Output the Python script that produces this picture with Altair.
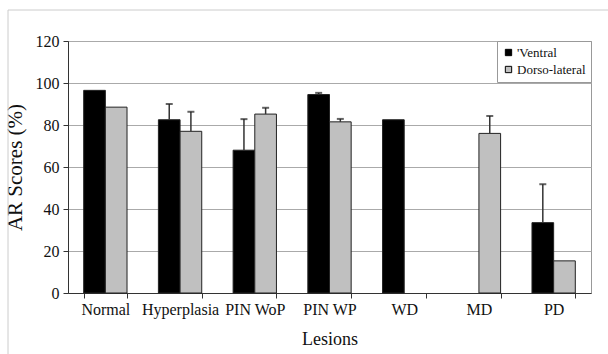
import altair as alt
import pandas as pd

categories = ["Normal", "Hyperplasia", "PIN WoP", "PIN WP", "WD", "MD", "PD"]
series_names = ["'Ventral", "Dorso-lateral"]
ventral = [96.5, 82.5, 68.0, 94.5, 82.5, None, 33.5]
ventral_err = [0.0, 7.5, 14.8, 0.8, 0.0, None, 18.3]
dorso = [88.5, 77.0, 85.2, 81.5, None, 76.0, 15.3]
dorso_err = [0.0, 9.3, 3.0, 1.4, None, 8.3, 0.0]

rows = []
for i, c in enumerate(categories):
    for name, vals, errs in ((series_names[0], ventral, ventral_err), (series_names[1], dorso, dorso_err)):
        if vals[i] is not None:
            rows.append({"cat": c, "series": name, "value": vals[i],
                         "err": errs[i], "top": vals[i] + errs[i]})
df = pd.DataFrame(rows)

FONT = "Liberation Serif"

x_enc = alt.X("cat:N", sort=categories,
              scale=alt.Scale(paddingInner=0.42, paddingOuter=0.21),
              axis=alt.Axis(title="Lesions", labelAngle=0, tickBand="extent",
                            labelFontSize=16, labelColor="#111", labelPadding=3,
                            titleFontSize=18, titleFontWeight="normal", titlePadding=13,
                            titleColor="#111", domainColor="#333", tickColor="#333",
                            tickSize=5, grid=False))
xoff = alt.XOffset("series:N", scale=alt.Scale(domain=series_names, paddingInner=0, paddingOuter=0))
y_scale = alt.Scale(domain=[0, 120])

base = alt.Chart(df)

frame = alt.Chart(pd.DataFrame({"a": [0]})).mark_rect(
    fill="transparent", stroke="#cccccc", strokeWidth=1, clip=False
).encode(x=alt.value(-60), x2=alt.value(580), y=alt.value(-31), y2=alt.value(340))

bars = base.mark_bar(stroke="#222", strokeWidth=1).encode(
    x=x_enc, xOffset=xoff,
    y=alt.Y("value:Q", scale=y_scale,
            axis=alt.Axis(title="AR Scores (%)", values=[0, 20, 40, 60, 80, 100, 120],
                          labelFontSize=16, labelColor="#111", labelPadding=4,
                          titleFontSize=21, titleFontWeight="normal", titleColor="#111",
                          titlePadding=10, domainColor="#333", tickColor="#333", tickSize=5,
                          gridColor="#aaaaaa", gridWidth=1)),
    color=alt.Color("series:N", scale=alt.Scale(domain=series_names, range=["#000000", "#c0c0c0"]),
                    legend=alt.Legend(title=None, orient="top-right", offset=0,
                                      symbolType="square", symbolSize=40,
                                      symbolStrokeColor="#000", symbolStrokeWidth=1,
                                      labelFontSize=13, labelFont=FONT, labelColor="#111",
                                      strokeColor="#999", fillColor="white", padding=5,
                                      rowPadding=3, labelOffset=2)),
)

errbars = base.transform_filter("datum.err > 0").mark_rule(color="#333", strokeWidth=1.5).encode(
    x=x_enc, xOffset=xoff, y=alt.Y("value:Q", scale=y_scale), y2="top:Q")

caps = base.transform_filter("datum.err > 0").mark_tick(color="#222", thickness=2, size=7).encode(
    x=x_enc, xOffset=xoff, y=alt.Y("top:Q", scale=y_scale))

chart = alt.layer(frame, bars, errbars, caps).properties(
    width=523, height=252,
    autosize=alt.AutoSizeParams(type="none"),
    padding={"left": 68, "top": 41, "right": 17, "bottom": 61},
).configure(font=FONT).configure_view(stroke="#999999", strokeWidth=1).configure_axis(
    labelFont=FONT, titleFont=FONT).configure_legend(labelFont=FONT)

chart.save("out.html", embed_options={"renderer": "svg", "actions": False})
